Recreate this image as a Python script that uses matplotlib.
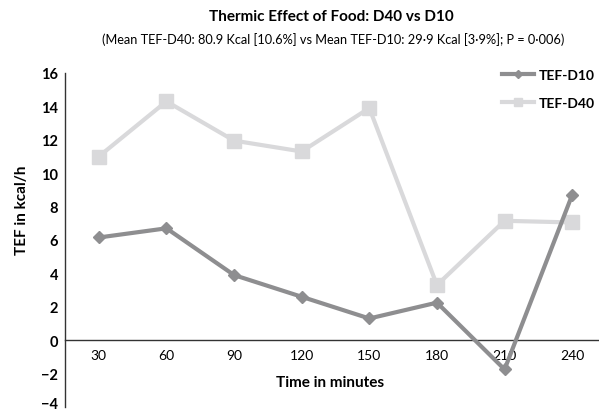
import matplotlib
matplotlib.use("Agg")
import matplotlib.pyplot as plt
import matplotlib.transforms as mtransforms

plt.rcParams['font.family'] = ['Lato', 'DejaVu Sans']
plt.rcParams['axes.unicode_minus'] = True

times = ["30", "60", "90", "120", "150", "180", "210", "240"]
tef_d10 = [6.15, 6.7, 3.9, 2.6, 1.3, 2.25, -1.75, 8.7]
tef_d40 = [11.0, 14.3, 11.95, 11.3, 13.9, 3.3, 7.15, 7.05]
y_ticks = [16, 14, 12, 10, 8, 6, 4, 2, 0, -2, -4]

c_d10 = "#8e8e90"
c_d40 = "#d9d9db"

fig = plt.figure(figsize=(5.99, 4.14), dpi=100)
ax = fig.add_axes([65/599, 1-408/414, (606-65)/599, (408-74)/414])

x = list(range(1, len(times) + 1))
ax.plot(x, tef_d10, color=c_d10, lw=3.0, marker="D", ms=6.5,
        mfc=c_d10, mec=c_d10, label="TEF-D10", zorder=3)
ax.plot(x, tef_d40, color=c_d40, lw=3.0, marker="s", ms=9.5,
        mfc=c_d40, mec=c_d40, label="TEF-D40", zorder=2)

ax.set_xlim(0.5, 8.5)
ax.set_ylim(-4, 16)
ax.set_yticks(y_ticks)
ax.set_yticklabels([f"{v}".replace("-", "\u2212") for v in y_ticks],
                   fontweight="bold", fontsize=10.5)
ax.set_xticks(x)
ax.set_xticklabels(times, fontweight="bold", fontsize=10.5)
ax.tick_params(axis="both", length=0)
ax.tick_params(axis="y", pad=5)
ax.tick_params(axis="x", pad=6)

# keep the lowest y label inside the figure
fig.canvas.draw()
lowest = ax.get_yticklabels()[-1]
lowest.set_transform(lowest.get_transform() +
                     mtransforms.ScaledTranslation(0, 4/100, fig.dpi_scale_trans))

for s in ("top", "right"):
    ax.spines[s].set_visible(False)
ax.spines["bottom"].set_position(("data", 0))
ax.spines["bottom"].set_color("#333333")
ax.spines["left"].set_color("#333333")
ax.spines["bottom"].set_linewidth(1.0)
ax.spines["left"].set_linewidth(1.0)

fig.text(330/599, 1-383/414, "Time in minutes", ha="center", va="center",
         fontweight="bold", fontsize=11)
fig.text(22/599, 1-210/414, "TEF in kcal/h", ha="center", va="center",
         rotation=90, fontweight="bold", fontsize=11)

fig.text(331/599, 1-17/414, "Thermic Effect of Food: D40 vs D10",
         ha="center", va="center", fontweight="bold", fontsize=11)
fig.text(333/599, 1-40/414,
         "(Mean TEF-D40: 80.9 Kcal [10.6%] vs Mean TEF-D10: 29\u00b79 Kcal [3\u00b79%]; P = 0\u00b7006)",
         ha="center", va="center", fontsize=9.2)

leg = fig.legend(loc="upper left", bbox_to_anchor=(496/599, 1-64/414),
                 frameon=False, prop={"weight": "bold", "size": 10},
                 handlelength=2.3, handletextpad=0.4, labelspacing=1.15,
                 markerscale=0.6, borderaxespad=0.0)

fig.savefig("out.png", dpi=100)
